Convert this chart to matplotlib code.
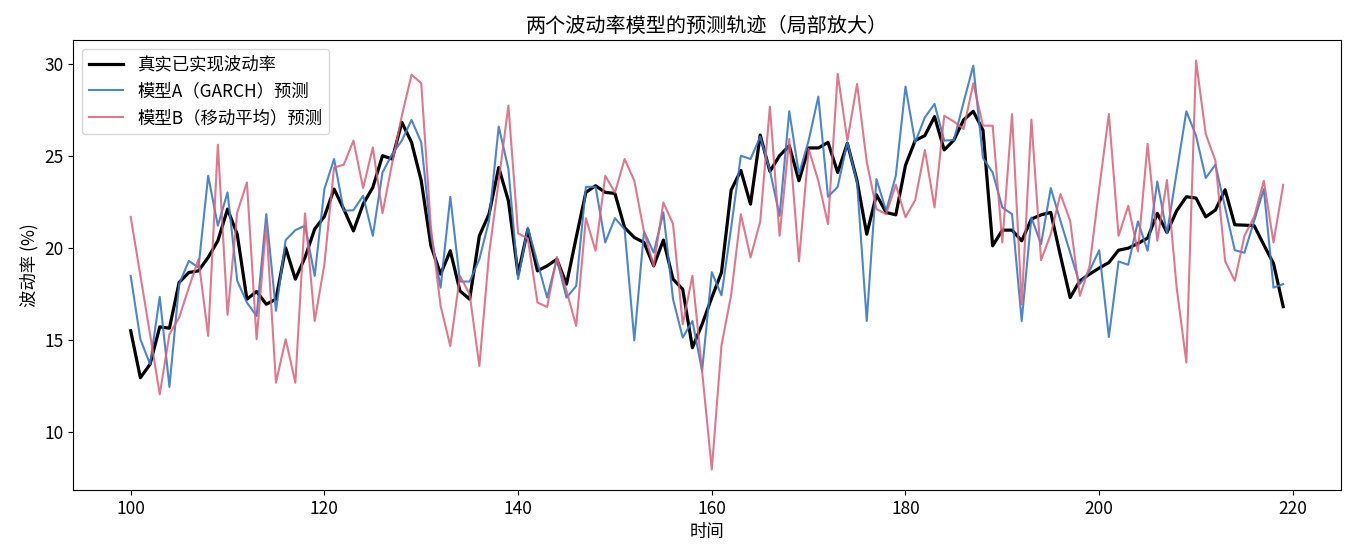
import numpy as np
import matplotlib
matplotlib.use('Agg')
import matplotlib.pyplot as plt

plt.rcParams['font.family'] = ['Noto Sans CJK SC', 'DejaVu Sans']
plt.rcParams['axes.unicode_minus'] = False
plt.rcParams['font.size'] = 12.5

# 时间轴 (局部放大 100..219)
t = np.arange(100, 220)

realized_vol = [
    15.5, 12.95, 13.68, 15.71, 15.64, 18.12, 18.66, 18.75, 19.48, 20.38,
    22.1, 20.74, 17.21, 17.63, 16.94, 17.21, 20.0, 18.3, 19.48, 21.02,
    21.7, 23.19, 22.1, 20.92, 22.37, 23.28, 25.0, 24.82, 26.81, 25.72,
    23.64, 20.11, 18.57, 19.84, 17.66, 17.21, 20.65, 21.83, 24.36, 22.55,
    18.57, 21.0, 18.75, 19.02, 19.38, 18.03, 20.56, 23.01, 23.37, 23.01,
    22.95, 21.1, 20.56, 20.29, 19.02, 20.42, 18.3, 17.75, 14.58, 15.85,
    17.3, 18.66, 23.13, 24.2, 22.37, 26.12, 24.15, 25.0, 25.54, 23.64,
    25.42, 25.42, 25.72, 24.09, 25.67, 23.64, 20.74, 22.88, 21.92, 21.79,
    24.48, 25.82, 26.09, 27.12, 25.31, 25.85, 26.94, 27.41, 26.39, 20.11,
    20.96, 20.96, 20.38, 21.56, 21.79, 21.92, 19.57, 17.3, 18.21, 18.57,
    18.9, 19.2, 19.87, 19.98, 20.24, 20.53, 21.87, 20.83, 22.01, 22.77,
    22.7, 21.68, 22.05, 23.15, 21.25, 21.23, 21.2, 20.16, 19.15, 16.81,
]

garch_pred = [
    18.48, 15.04, 13.68, 17.34, 12.45, 18.03, 19.29, 18.93, 23.91, 21.2,
    23.01, 18.21, 17.03, 16.3, 21.83, 16.58, 20.42, 20.96, 21.2, 18.48,
    23.19, 24.82, 22.01, 22.04, 22.83, 20.65, 24.09, 25.09, 25.82, 26.94,
    25.72, 20.74, 17.84, 22.77, 18.17, 18.17, 19.38, 21.47, 26.58, 24.28,
    18.3, 21.1, 19.2, 17.3, 19.38, 17.3, 17.93, 23.31, 23.31, 20.29,
    21.61, 21.0, 14.98, 20.89, 19.74, 21.92, 17.21, 15.13, 16.03, 13.32,
    18.68, 17.42, 21.1, 25.0, 24.82, 26.03, 24.2, 21.74, 27.41, 24.0,
    25.82, 28.21, 22.77, 23.31, 25.72, 23.55, 16.03, 23.73, 22.01, 23.91,
    28.75, 25.72, 27.08, 27.81, 25.82, 25.85, 27.9, 29.89, 24.87, 24.09,
    22.19, 21.83, 16.03, 21.65, 20.2, 23.24, 21.47, 19.74, 18.03, 18.75,
    19.87, 15.16, 19.26, 19.08, 21.43, 19.84, 23.6, 20.78, 24.09, 27.41,
    26.09, 23.79, 24.51, 22.19, 19.87, 19.73, 21.47, 23.19, 17.84, 18.03,
]

ma_pred = [
    21.68, 18.5, 15.3, 12.05, 15.31, 16.21, 17.84, 19.38, 15.22, 25.6,
    16.36, 21.92, 23.55, 15.04, 21.29, 12.68, 15.04, 12.68, 21.87, 16.03,
    19.11, 24.36, 24.51, 25.82, 23.24, 25.45, 21.88, 24.6, 27.17, 29.4,
    28.93, 21.1, 16.85, 14.67, 18.48, 17.48, 13.59, 19.66, 23.64, 27.72,
    20.78, 20.51, 17.03, 16.79, 19.51, 17.66, 15.76, 21.61, 19.84, 23.91,
    23.0, 24.82, 23.64, 20.87, 19.0, 22.46, 21.29, 15.85, 18.48, 13.3,
    7.97, 14.7, 17.45, 21.83, 19.48, 21.42, 27.66, 20.65, 25.91, 19.26,
    25.36, 23.64, 21.29, 29.44, 25.82, 28.89, 24.66, 22.1, 21.83, 23.42,
    21.66, 22.59, 25.31, 22.19, 27.17, 26.85, 26.45, 28.93, 26.63, 26.63,
    20.29, 27.26, 16.94, 26.96, 19.33, 20.74, 22.92, 21.47, 17.39, 19.0,
    23.2, 27.26, 20.65, 22.28, 19.8, 25.64, 20.38, 23.68, 17.84, 13.77,
    30.16, 26.18, 24.73, 19.29, 18.21, 20.65, 21.68, 23.64, 20.29, 23.42,
]

fig = plt.figure(figsize=(13.53, 5.58), dpi=100)
ax = fig.add_axes([0.054, 0.122, 0.937, 0.806])

ax.plot(t, realized_vol, color='black', lw=2.3, label='真实已实现波动率')
ax.plot(t, garch_pred, color='#3a78c4', lw=1.5, alpha=0.9, label='模型A（GARCH）预测')
ax.plot(t, ma_pred, color='#d9607a', lw=1.5, alpha=0.85, label='模型B（移动平均）预测')

ax.set_title('两个波动率模型的预测轨迹（局部放大）', fontsize=14.5)
ax.set_xlabel('时间')
ax.set_ylabel('波动率 (%)')
ax.legend(loc='upper left')

fig.savefig('out.png', dpi=100)
